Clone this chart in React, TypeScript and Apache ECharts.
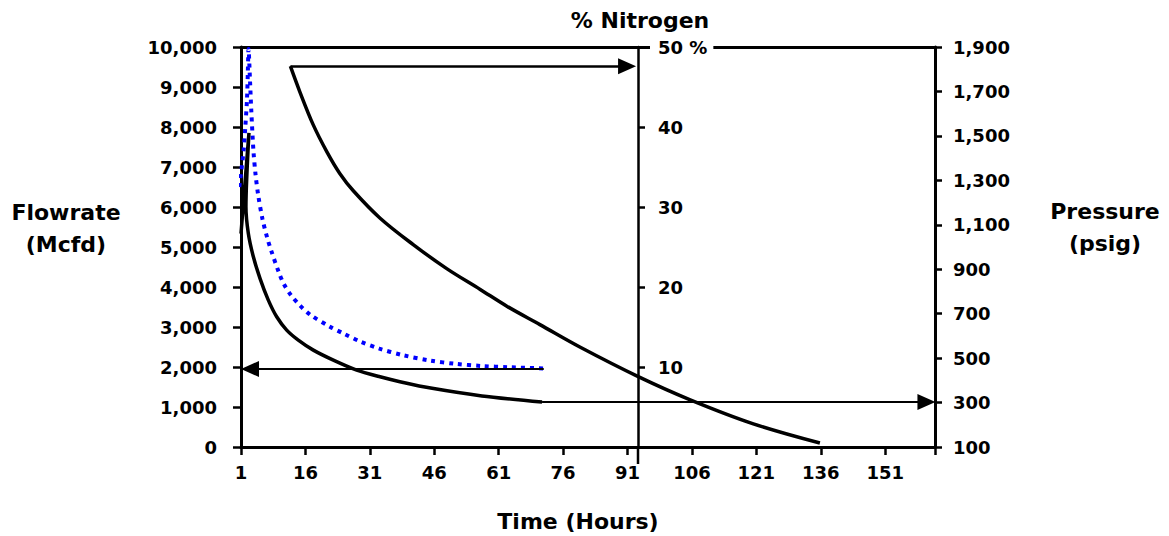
import { useEffect, useRef } from 'react';
import * as echarts from 'echarts';

const FONT = '"DejaVu Sans", "Liberation Sans", sans-serif';

// Time (hours) axis
const timeMin = 1;
const timeMax = 162.6;
const timeStep = 15;

// Flowrate (Mcfd) – blue dotted curve, left axis
const flowHours = [0.6, 1.6, 2.0, 2.4, 2.6, 2.75, 3.1, 3.4, 3.9, 4.4, 5.0, 6.0, 7.1, 8.0, 9.9, 11.0, 12.6, 14.7, 17.2, 21.5, 25, 28.7, 33.2, 38.5, 45.1, 50.9, 57.1, 63.3, 71.5];
const flowValues = [6500, 7400, 8000, 8700, 9400, 9950, 9150, 8400, 7400, 6800, 6300, 5700, 5230, 4920, 4340, 4070, 3800, 3540, 3300, 3020, 2830, 2640, 2460, 2300, 2160, 2080, 2025, 1995, 1965];

// % Nitrogen – upper black curve, middle axis
const nitrogenHours = [12.5, 14.7, 17.8, 21, 24, 27.2, 33.4, 41.1, 48.9, 56.7, 62.9, 70.6, 79.9, 93.5, 105.6, 120.3, 135.8];
const nitrogenValues = [47.6, 44.4, 40.3, 36.9, 34.2, 32.0, 28.6, 25.3, 22.3, 19.7, 17.6, 15.3, 12.5, 8.8, 5.9, 2.9, 0.5];

// Pressure (psig) – lower black curve, right axis
const pressureHours = [1, 2.85, 2.15, 2.7, 3.86, 5.42, 7.36, 9.31, 11.64, 14.34, 17.84, 22.5, 27.94, 33.37, 38, 45.5, 57.1, 71.1];
const pressureValues = [1060, 1513, 1180, 1062, 957, 859, 761, 686, 626, 581, 536, 491, 446, 416, 394, 364, 330, 302];

// Axis ranges
const flowAxis = { min: 0, max: 10000, step: 1000 };
const nitrogenAxis = { min: 0, max: 50, step: 10 };
const pressureAxis = { min: 100, max: 1900, step: 200 };

// Arrow annotations [fromHour, toHour, value]
const flowArrow = [71.5, 3.1, 1950];
const nitrogenArrow = [12.5, 90.9, 47.6];
const pressureArrow = [71.1, 160.6, 302];

const pairs = (xs: number[], ys: number[]) => xs.map((x, i) => [x, ys[i]]);

const labelStyle = { color: '#000', fontSize: 18, fontWeight: 'bold' as const, fontFamily: FONT };
const lineBlack = { color: '#000', width: 3 };

const arrowLine = (from: number, to: number, v: number, width: number) => ({
  silent: true,
  symbol: ['none', 'triangle'],
  symbolSize: [16, 18],
  label: { show: false },
  emphasis: { disabled: true },
  lineStyle: { color: '#000', width, type: 'solid' },
  itemStyle: { color: '#000' },
  data: [[{ coord: [from, v] }, { coord: [to, v] }]],
});

const titleText = (text: string, x: number, y: number) => ({
  type: 'text',
  x,
  y,
  style: {
    text,
    fill: '#000',
    font: `bold 22px ${FONT}`,
    align: 'center',
    verticalAlign: 'middle',
  },
});

export default function App() {
  const ref = useRef<HTMLDivElement>(null);
  useEffect(() => {
    const chart = echarts.init(ref.current!, null, { renderer: 'svg' });
    const option: any = {
      animation: false,
      textStyle: { fontFamily: FONT },
      grid: { left: 241, top: 47, width: 694, height: 400, show: false },
      xAxis: [
        {
          type: 'value',
          position: 'bottom',
          min: timeMin,
          max: timeMax,
          interval: timeStep,
          axisLine: { onZero: false, lineStyle: lineBlack },
          axisTick: { length: 8, lineStyle: { color: '#000', width: 2.5 } },
          axisLabel: {
            ...labelStyle,
            margin: 16,
            formatter: (v: number) => ((v - timeMin) % timeStep === 0 ? String(v) : ''),
          },
          splitLine: { show: false },
        },
        {
          type: 'value',
          position: 'top',
          min: timeMin,
          max: timeMax,
          axisLine: { onZero: false, lineStyle: lineBlack },
          axisTick: { show: false },
          axisLabel: { show: false },
          splitLine: { show: false },
        },
      ],
      yAxis: [
        {
          type: 'value',
          position: 'left',
          min: flowAxis.min,
          max: flowAxis.max,
          interval: flowAxis.step,
          axisLine: { show: true, onZero: false, lineStyle: lineBlack },
          axisTick: { show: true, length: 8, lineStyle: { color: '#000', width: 2.5 } },
          axisLabel: { ...labelStyle, margin: 24, formatter: (v: number) => v.toLocaleString('en-US') },
          splitLine: { show: false },
        },
        {
          type: 'value',
          position: 'right',
          offset: -297,
          z: 6,
          min: nitrogenAxis.min,
          max: nitrogenAxis.max,
          interval: nitrogenAxis.step,
          axisLine: { show: true, onZero: false, lineStyle: { color: '#000', width: 2.5 } },
          axisTick: { show: true, length: 7, lineStyle: { color: '#000', width: 2.5 } },
          axisLabel: {
            ...labelStyle,
            margin: 12,
            backgroundColor: '#fff',
            padding: [0, 6, 0, 8],
            formatter: (v: number) => (v === nitrogenAxis.max ? `${v} %` : v === 0 ? '' : String(v)),
          },
          splitLine: { show: false },
        },
        {
          type: 'value',
          position: 'right',
          min: pressureAxis.min,
          max: pressureAxis.max,
          interval: pressureAxis.step,
          axisLine: { show: true, onZero: false, lineStyle: lineBlack },
          axisTick: { show: true, length: 7, lineStyle: { color: '#000', width: 2.5 } },
          axisLabel: { ...labelStyle, margin: 18, formatter: (v: number) => v.toLocaleString('en-US') },
          splitLine: { show: false },
        },
      ],
      series: [
        {
          name: 'Flowrate',
          type: 'line',
          xAxisIndex: 0,
          yAxisIndex: 0,
          data: pairs(flowHours, flowValues),
          showSymbol: false,
          symbol: 'none',
          smooth: 0.3,
          z: 3,
          lineStyle: { color: '#0000ff', width: 4, type: [4, 5], cap: 'butt' },
          markLine: arrowLine(flowArrow[0], flowArrow[1], flowArrow[2], 2),
        },
        {
          name: '% Nitrogen',
          type: 'line',
          xAxisIndex: 0,
          yAxisIndex: 1,
          data: pairs(nitrogenHours, nitrogenValues),
          showSymbol: false,
          symbol: 'none',
          smooth: 0.35,
          z: 3,
          lineStyle: { color: '#000', width: 3.5 },
          markLine: arrowLine(nitrogenArrow[0], nitrogenArrow[1], nitrogenArrow[2], 2.5),
        },
        {
          name: 'Pressure',
          type: 'line',
          xAxisIndex: 0,
          yAxisIndex: 2,
          data: pairs(pressureHours, pressureValues),
          showSymbol: false,
          symbol: 'none',
          smooth: 0.25,
          z: 3,
          lineStyle: { color: '#000', width: 3.5 },
          markLine: arrowLine(pressureArrow[0], pressureArrow[1], pressureArrow[2], 2),
        },
      ],
      graphic: [
        titleText('% Nitrogen', 640, 20),
        titleText('Flowrate', 66, 212),
        titleText('(Mcfd)', 66, 244),
        titleText('Pressure', 1105, 211),
        titleText('(psig)', 1105, 243),
        titleText('Time (Hours)', 578, 521),
        { type: 'line', shape: { x1: 638, y1: 447, x2: 638, y2: 464 }, style: { stroke: '#000', lineWidth: 2.5 } },
      ],
    };
    chart.setOption(option);
    return () => chart.dispose();
  }, []);
  return (
    <div
      ref={ref}
      style={{ position: 'fixed', left: 0, top: 0, width: 1169, height: 536, background: '#fff' }}
    />
  );
}
